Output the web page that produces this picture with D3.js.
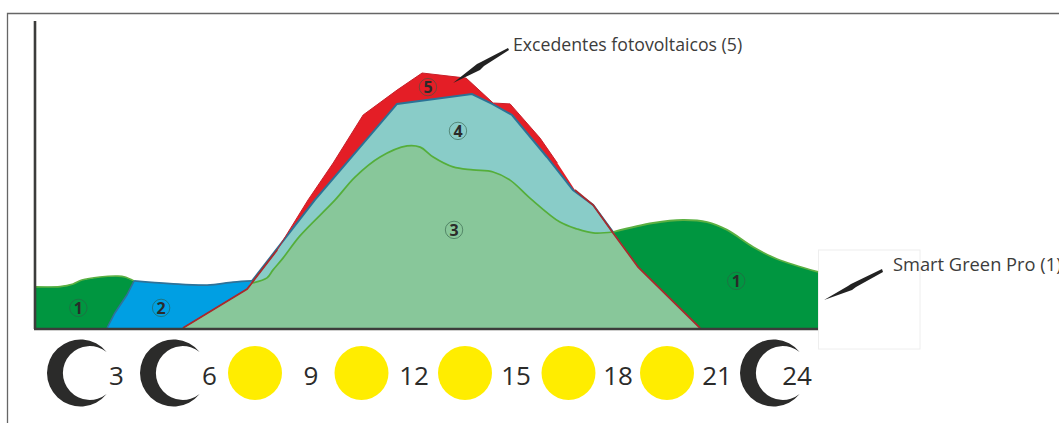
<!DOCTYPE html>
<html>
<head>
<meta charset="utf-8">
<script src="https://d3js.org/d3.v7.min.js"></script>
<style>
  body { margin: 0; background: #fff; overflow: hidden; }
  text { font-family: "Open Sans", sans-serif; }
</style>
</head>
<body>
<svg id="chart" width="1059" height="423"></svg>
<script>
// values: hour of day, share of the axis height
var green1LeftHours = [0, 0.74, 1.14, 1.41, 1.96, 2.52, 2.73, 3.01];
var green1LeftValues = [13.7, 13.8, 14.7, 16, 17, 17.3, 17, 15.7];
var green1EdgeHours = [3.01, 2.79, 2.42, 2.18];
var green1EdgeValues = [15.7, 11, 5, 0];
var green1RightHours = [17.71, 18.94, 19.86, 20.6, 21.21, 22.01, 22.74, 24];
var green1RightValues = [32, 35, 36, 35.3, 32.7, 27, 23, 18.7];
var blueHours = [3.01, 4.11, 5.25, 6.05, 6.63];
var blueValues = [15.7, 14.8, 14.3, 15.3, 15.7];
var selfHours = [6.63, 7.09, 7.27, 7.58, 8.1, 9.18, 9.79, 10.56, 11.39, 11.79, 12.19, 12.8, 13.41, 14.03, 14.55, 15.16, 16.08, 16.61, 17.1, 17.71];
var selfValues = [15, 16.7, 19.3, 23.3, 30.7, 42.7, 50.3, 57, 60.7, 60.3, 57, 53.7, 52.7, 52, 49.3, 43.3, 35.3, 33, 31.7, 32];
var tealHours = [6.63, 8.56, 11.08, 13.38, 14, 14.61, 15.68, 16.48, 17.1, 17.71];
var tealValues = [15.7, 42.7, 74.7, 78, 74.7, 71, 57, 46, 41, 32];
var redHours = [4.51, 6.48, 7.4, 8.35, 9.12, 10.04, 11.08, 11.85, 13.2, 14.03, 14.55, 15.47, 16, 16.54, 17.1, 17.71, 18.48, 20.38];
var redValues = [0, 13, 26, 42.7, 55, 71, 79.3, 85, 83.3, 75, 74.7, 63.3, 55, 46, 41, 31.7, 20.3, 0];

var tickLabels = [3, 6, 9, 12, 15, 18, 21, 24];
var tickIcons = ["moon", "moon", "sun", "sun", "sun", "sun", "sun", "moon"];

var svg = d3.select("#chart");

var x = d3.scaleLinear().domain([0, 24]).range([36, 818]);
var y = d3.scaleLinear().domain([0, 100]).range([328, 28]);

// the hour labels and icons don't sit on the x scale in the drawing
var labelX = d3.scaleLinear().domain(tickLabels).range([116.5, 209.5, 311, 414, 516, 618, 717, 797]);
var iconX = d3.scaleOrdinal().domain(tickLabels).range([47, 140, 255, 361.5, 465, 568.5, 667, 740]);

function zip(hours, values) {
  return hours.map(function(h, i) { return [h, values[i]]; });
}

var straight = d3.line().x(function(d) { return x(d[0]); }).y(function(d) { return y(d[1]); });
var smooth = d3.line().x(function(d) { return x(d[0]); }).y(function(d) { return y(d[1]); }).curve(d3.curveCatmullRom.alpha(0.5));

function area(points, curve) {
  return d3.area().x(function(d) { return x(d[0]); }).y0(y(0)).y1(function(d) { return y(d[1]); }).curve(curve)(points);
}

var green1Left = zip(green1LeftHours, green1LeftValues);
var green1Edge = zip(green1EdgeHours, green1EdgeValues);
var green1Right = zip(green1RightHours, green1RightValues);
var blueTop = zip(blueHours, blueValues);
var selfTop = zip(selfHours, selfValues);
var tealTop = zip(tealHours, tealValues);
var redTop = zip(redHours, redValues);
// lower right part of the red outline, also the edge of the light green area
var redFoot = redTop.slice(15);
var redStart = redTop.slice(0, 2);

// frame
svg.append("path").attr("d", "M7.5 423V13.5H1059").attr("fill", "none").attr("stroke", "#666").attr("stroke-width", 1.3);
svg.append("rect").attr("x", 818.5).attr("y", 250).attr("width", 101.5).attr("height", 99)
  .attr("fill", "none").attr("stroke", "#eeeeee");

// dark green, left
var leftShape = green1Left.concat(green1Edge.slice(1), [[0, 0]]);
svg.append("path").attr("d", straight(leftShape) + "Z").attr("fill", "#009640");
svg.append("path").attr("d", smooth(green1Left)).attr("fill", "none").attr("stroke", "#5cb042").attr("stroke-width", 1.6);

// blue
var blueShape = blueTop.concat(redStart.slice().reverse(), green1Edge.slice().reverse());
svg.append("path").attr("d", straight(blueShape) + "Z").attr("fill", "#009fe3");
svg.append("path").attr("d", smooth(blueTop)).attr("fill", "none").attr("stroke", "#2f7298").attr("stroke-width", 1.6);
svg.append("path").attr("d", straight(green1Edge)).attr("fill", "none").attr("stroke", "#2f7298").attr("stroke-width", 1.6);

// dark green, right
svg.append("path").attr("d", area(green1Right, d3.curveCatmullRom.alpha(0.5))).attr("fill", "#009640");
svg.append("path").attr("d", smooth(green1Right)).attr("fill", "none").attr("stroke", "#5cb042").attr("stroke-width", 1.8);

// red and teal
svg.append("path").attr("d", area(redTop, d3.curveLinear)).attr("fill", "#e41e26");
svg.append("path").attr("d", area(tealTop, d3.curveLinear)).attr("fill", "#89ccc8");
svg.append("path").attr("d", straight(tealTop)).attr("fill", "none").attr("stroke", "#2b7296").attr("stroke-width", 2);

// light green
var selfShape = smooth(selfTop) + straight(redFoot.slice(1)).replace("M", "L") + straight(redStart).replace("M", "L") + "Z";
svg.append("path").attr("d", selfShape).attr("fill", "#88c79a");
svg.append("path").attr("d", smooth(selfTop)).attr("fill", "none").attr("stroke", "#55ae3a").attr("stroke-width", 1.7);

// red outline
svg.append("path").attr("d", straight(redTop.slice(0, 13))).attr("fill", "none").attr("stroke", "#c8202a").attr("stroke-width", 1);
svg.append("path").attr("d", straight(redStart.concat([redTop[2]]))).attr("fill", "none").attr("stroke", "#a92a2c").attr("stroke-width", 1.8);
svg.append("path").attr("d", straight(redTop.slice(13))).attr("fill", "none").attr("stroke", "#a92a2c").attr("stroke-width", 1.8);

// axes
svg.append("line").attr("x1", x(0) - 1).attr("x2", x(0) - 1).attr("y1", 21).attr("y2", y(0) + 1)
  .attr("stroke", "#3c3c3b").attr("stroke-width", 2.6);
svg.append("line").attr("x1", x(0) - 2).attr("x2", x(24)).attr("y1", y(0) + 1).attr("y2", y(0) + 1)
  .attr("stroke", "#3c3c3b").attr("stroke-width", 2.6);

// circled numbers
var badges = [
  { n: 1, h: 1.3, v: 6.7 },
  { n: 2, h: 3.84, v: 6.7 },
  { n: 3, h: 12.83, v: 32.7 },
  { n: 4, h: 12.95, v: 65.7 },
  { n: 5, h: 12.03, v: 80.3 },
  { n: 1, h: 21.49, v: 15.7 }
];
var badge = svg.selectAll(".badge").data(badges).enter().append("g")
  .attr("class", "badge")
  .attr("transform", function(d) { return "translate(" + x(d.h) + "," + y(d.v) + ")"; });
badge.append("circle").attr("r", 8.7).attr("fill", "none").attr("stroke", "#2f5a45").attr("stroke-width", 0.6);
badge.append("text").attr("text-anchor", "middle").attr("y", 6).attr("font-size", 16).attr("font-weight", 700)
  .attr("fill", "#2b2b2a").text(function(d) { return d.n; });

// hour icons and labels
tickLabels.forEach(function(t, i) {
  if (tickIcons[i] === "sun") {
    svg.append("circle").attr("cx", iconX(t)).attr("cy", 373).attr("r", 27).attr("fill", "#ffed00");
  } else {
    svg.append("path")
      .attr("transform", "translate(" + iconX(t) + ",373)")
      .attr("d", "M59.6 -21A33.5 33.5 0 1 0 59.6 21A26.9 26.9 0 1 1 59.6 -21Z")
      .attr("fill", "#2b2b2a");
  }
});
svg.selectAll(".hour").data(tickLabels).enter().append("text")
  .attr("class", "hour")
  .attr("x", function(d) { return labelX(d); })
  .attr("y", 384.5)
  .attr("text-anchor", "middle")
  .attr("font-size", 26)
  .attr("fill", "#2b2b2a")
  .text(function(d) { return d; });

// callouts
svg.append("text").attr("x", 513).attr("y", 51).attr("font-size", 17.7).attr("fill", "#3c3c3b")
  .text("Excedentes fotovoltaicos (5)");
svg.append("path").attr("d", "M508 48L509 50L484 66L480 70L453 83L477 64L481 62Z").attr("fill", "#222");
svg.append("text").attr("x", 893).attr("y", 271).attr("font-size", 18.3).attr("fill", "#3c3c3b")
  .text("Smart Green Pro (1)");
svg.append("path").attr("d", "M882 269L883 272L856 287L852 290L824 300L848 286L851 284Z").attr("fill", "#222");
</script>
</body>
</html>
